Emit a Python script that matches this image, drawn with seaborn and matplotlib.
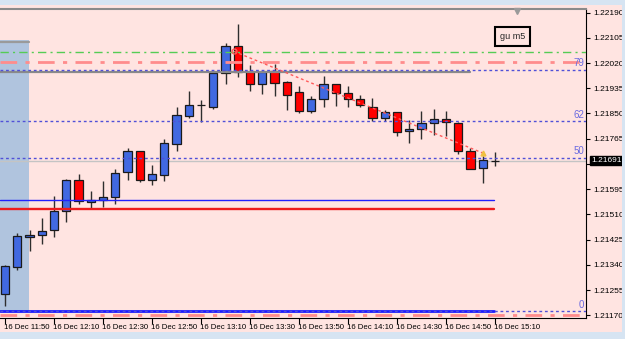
import matplotlib
matplotlib.use("Agg")
import matplotlib.pyplot as plt
import matplotlib.transforms as mtransforms
from matplotlib.patches import Rectangle
import seaborn as sns
import numpy as np

# 5-minute candles, 16 Dec 11:50 .. 15:10
opens = [1.21241, 1.21334, 1.21435, 1.21442, 1.21457, 1.21521, 1.21626, 1.21552, 1.21558, 1.21569,
         1.21653, 1.21724, 1.21626, 1.21644, 1.21747, 1.21840, 1.21879, 1.21872, 1.21987, 1.22078,
         1.21990, 1.21950, 1.21993, 1.21956, 1.21923, 1.21858, 1.21900, 1.21948, 1.21918, 1.21898,
         1.21872, 1.21836, 1.21854, 1.21791, 1.21797, 1.21817, 1.21830, 1.21818, 1.21725, 1.21665,
         1.21691]
highs = [1.21339, 1.21447, 1.21457, 1.21498, 1.21572, 1.21629, 1.21646, 1.21589, 1.21622, 1.21663,
         1.21734, 1.21725, 1.21676, 1.21764, 1.21872, 1.21926, 1.21896, 1.21990, 1.22088, 1.22152,
         1.22014, 1.21993, 1.22017, 1.21960, 1.21943, 1.21909, 1.21976, 1.21950, 1.21943, 1.21912,
         1.21902, 1.21862, 1.21856, 1.21828, 1.21858, 1.21864, 1.21859, 1.21821, 1.21735, 1.21707,
         1.21721]
lows = [1.21201, 1.21322, 1.21386, 1.21410, 1.21434, 1.21484, 1.21545, 1.21528, 1.21535, 1.21545,
        1.21626, 1.21619, 1.21609, 1.21622, 1.21724, 1.21835, 1.21821, 1.21865, 1.21950, 1.21973,
        1.21926, 1.21916, 1.21909, 1.21862, 1.21852, 1.21852, 1.21872, 1.21875, 1.21872, 1.21872,
        1.21825, 1.21825, 1.21775, 1.21752, 1.21764, 1.21779, 1.21774, 1.21712, 1.21662, 1.21615,
        1.21672]
closes = [1.21336, 1.21437, 1.21442, 1.21454, 1.21521, 1.21626, 1.21555, 1.21558, 1.21569, 1.21649,
          1.21724, 1.21626, 1.21646, 1.21751, 1.21845, 1.21879, 1.21877, 1.21987, 1.22078, 1.21990,
          1.21950, 1.21990, 1.21953, 1.21912, 1.21858, 1.21899, 1.21948, 1.21918, 1.21898, 1.21880,
          1.21836, 1.21854, 1.21787, 1.21797, 1.21817, 1.21830, 1.21822, 1.21725, 1.21663, 1.21694,
          1.21691]

tick_times = ["11:50", "12:10", "12:30", "12:50", "13:10", "13:30", "13:50", "14:10", "14:30", "14:50", "15:10"]
price_ticks = [1.21170, 1.21255, 1.21340, 1.21425, 1.21510, 1.21595, 1.21680,
               1.21765, 1.21850, 1.21935, 1.22020, 1.22105, 1.22190]

# fibo levels (0 / 50 / 62 / 79)
fib_low = 1.21183
fib_high = 1.22220
fib_levels = [0.0, 0.5, 0.618, 0.786]
fib_names = ["0", "50", "62", "79"]

green_level = 1.22056
salmon_top = 1.22022
salmon_bottom = 1.21171
gray_level = 1.21989
blue_level = 1.21558
red_level = 1.21528
bid = 1.21691
box_top = 1.22098
trend_x = [18.7, 39.05]
trend_y = [1.22059, 1.21716]

sns.set_style("ticks", {"axes.facecolor": "#ffe4e1", "figure.facecolor": "#ffe4e1"})
plt.rcParams["font.family"] = ["Liberation Sans", "DejaVu Sans"]

fig = plt.figure(figsize=(6.25, 3.39), dpi=100)
ax = fig.add_axes([0, 21 / 339, 586 / 625, 309 / 339])
ax.set_facecolor("#ffe4e1")

x = np.arange(len(opens))
o = np.array(opens); c = np.array(closes)
up = c > o

# shaded rectangle on the left
ax.add_patch(Rectangle((-3, fib_low), 1.96 + 3, box_top - fib_low, facecolor="#b0c4de",
                       edgecolor="none", zorder=0.5))
ax.plot([-3, 1.96], [box_top - 0.00008] * 2, color="#9a9a9a", lw=1.6, zorder=0.6)

# candles
ax.vlines(x, lows, highs, color="#2e2e2e", lw=1, zorder=2)
ax.bar(x[up], (c - o)[up], bottom=o[up], width=0.66, color="#4169e1",
       edgecolor="#1a1a1a", linewidth=0.9, zorder=3)
ax.bar(x[~up], (o - c)[~up], bottom=c[~up], width=0.66, color="#ff0000",
       edgecolor="#1a1a1a", linewidth=0.9, zorder=3)

xmin, xmax = -0.41, 47.43
end_x = 39.9

# horizontal objects
dashdot = (0, (6, 3, 1.5, 3))
ax.axhline(green_level, color="#55cc55", lw=1, ls=dashdot, zorder=4)
ax.axhline(salmon_top, color="#ff8c8c", lw=2, ls=dashdot, zorder=4)
ax.axhline(salmon_bottom, color="#ff8c8c", lw=2, ls=dashdot, zorder=4)
ax.plot([xmin, 38.0], [gray_level] * 2, color="#8a8a8a", lw=1.6, zorder=4)
ax.axhline(bid, color="#c4c4c4", lw=1, zorder=1.5)
ax.plot([xmin, end_x], [blue_level] * 2, color="#2020ff", lw=1, zorder=4)
ax.plot([xmin, end_x], [red_level] * 2, color="#ee1c1c", lw=1.7, zorder=4)
ax.plot([xmin, end_x], [fib_low] * 2, color="#1a1aff", lw=2, zorder=4)

fib_trans = mtransforms.blended_transform_factory(ax.transAxes, ax.transData)
for lv, name in zip(fib_levels, fib_names):
    p = fib_low + lv * (fib_high - fib_low)
    ax.axhline(p, color="#5050d8", lw=1, ls=(0, (2, 2)), zorder=4)
    ax.text(0.997, p + 0.00005, name, transform=fib_trans, ha="right", va="bottom",
            fontsize=7, color="#6a6ae0", zorder=5)

# trend line
ax.plot(trend_x, trend_y, color="#ff5a5a", lw=1, ls=(0, (2, 2)), zorder=5)
ax.plot(trend_x[0], trend_y[0], marker="o", ms=3.5, mfc="none", mec="#ff5a5a", mew=1, zorder=5)
ax.plot(trend_x[1], trend_y[1], marker="^", ms=3.5, color="#f0c040", zorder=5)

ax.set_xlim(xmin, xmax)
ax.set_ylim(1.21161, 1.22202)

# axes styling
ax.spines["left"].set_visible(False)
ax.spines["top"].set_color("#8a8a8a")
ax.spines["top"].set_linewidth(1.5)
ax.spines["right"].set_color("black")
ax.spines["bottom"].set_color("black")
ax.spines["right"].set_linewidth(0.8)
ax.spines["bottom"].set_linewidth(0.8)

ax.yaxis.tick_right()
ax.set_yticks(price_ticks)
ax.set_yticklabels([f"{p:.5f}" for p in price_ticks])
ax.tick_params(axis="y", direction="out", length=3, width=0.8, pad=2, labelsize=6, colors="black")

xt = np.arange(0, len(opens), 4)
ax.set_xticks(xt)
ax.set_xticklabels(["16 Dec " + t for t in tick_times])
ax.tick_params(axis="x", direction="out", length=4, width=0.8, pad=0.5, labelsize=5.6, colors="black")
shift = mtransforms.ScaledTranslation(-1 / 100, 0, fig.dpi_scale_trans)
for lab in ax.get_xticklabels():
    lab.set_horizontalalignment("left")
    lab.set_transform(lab.get_transform() + shift)

# current price label
ax.annotate(f"{bid:.5f}", xy=(1.0, bid), xycoords=fib_trans, xytext=(4, 0),
            textcoords="offset points", ha="left", va="center", fontsize=6, color="white",
            bbox=dict(boxstyle="square,pad=0.15", fc="black", ec="black"), zorder=10,
            annotation_clip=False)

# chart label
fig.text(512.5 / 625, 1 - 36.5 / 339, "gu m5", ha="center", va="center", fontsize=6.5,
         bbox=dict(boxstyle="square,pad=0.55", fc="#ffe4e1", ec="black", lw=1.5))

# shift marker at top
ax.plot([0.882], [0.992], marker="v", ms=4, color="#9a9a9a", transform=ax.transAxes,
        clip_on=False, zorder=6)

# window chrome bands
fig.patches.append(Rectangle((0, 1 - 5 / 339), 1, 5 / 339, transform=fig.transFigure,
                             facecolor="#d6e4f2", edgecolor="none"))
fig.patches.append(Rectangle((0, 0), 1, 7 / 339, transform=fig.transFigure,
                             facecolor="#d6e4f2", edgecolor="none"))
fig.patches.append(Rectangle((622 / 625, 0), 3 / 625, 1, transform=fig.transFigure,
                             facecolor="#d6e4f2", edgecolor="none"))

fig.savefig("out.png", dpi=100, facecolor=fig.get_facecolor())
